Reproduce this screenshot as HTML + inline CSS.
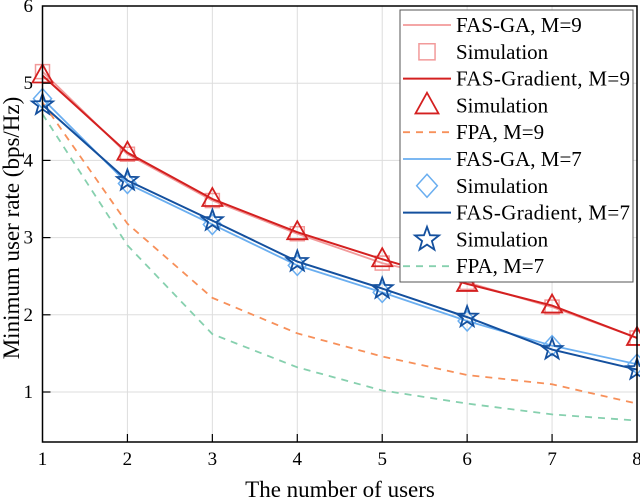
<!DOCTYPE html>
<html><head><meta charset="utf-8"><style>
body{margin:0;background:#fff}
svg{display:block;font-family:"Liberation Serif",serif}
</style></head><body>
<svg id="chart" width="640" height="502" viewBox="0 0 640 502">
<g id="grid"></g>
<g id="series"></g>
<g id="axes"></g>
<text x="340" y="497" text-anchor="middle" font-size="23">The number of users</text>
<text transform="translate(19,228) rotate(-90)" text-anchor="middle" font-size="23">Minimum user rate (bps/Hz)</text>
<g id="legend"></g>
</svg>
<script>
const users=[1,2,3,4,5,6,7,8];
const gaM9=[5.15,4.08,3.48,3.05,2.67,2.42,2.1,1.7];
const gradM9=[5.1,4.1,3.5,3.07,2.72,2.4,2.12,1.7];
const fpaM9=[4.75,3.18,2.22,1.76,1.46,1.22,1.1,0.85];
const gaM7=[4.8,3.7,3.17,2.64,2.29,1.92,1.6,1.36];
const gradM7=[4.72,3.74,3.22,2.69,2.34,1.97,1.55,1.29];
const fpaM7=[4.6,2.9,1.75,1.32,1.02,0.85,0.71,0.63];
const xTicks=[1,2,3,4,5,6,7,8];
const yTicks=[1,2,3,4,5,6];
const NS='http://www.w3.org/2000/svg';
const L=42.5,R=637,T=6,B=442;
const X=v=>L+(v-1)*(R-L)/7;
const Y=v=>392-(v-1)*77.2;
function mk(tag,attrs,parent){const e=document.createElementNS(NS,tag);for(const k in attrs)e.setAttribute(k,attrs[k]);parent.appendChild(e);return e;}
const grid=document.getElementById('grid'),axes=document.getElementById('axes'),ser=document.getElementById('series'),leg=document.getElementById('legend');
xTicks.forEach(t=>{
 if(t>1&&t<8){const g=mk('line',{x1:X(t),x2:X(t),y1:T,y2:B,stroke:'#ddd','stroke-width':1},grid);
 
 
 const tk=mk('line',{x1:X(t),x2:X(t),y1:B,y2:B-8,stroke:'#000','stroke-width':1.2},axes);
 
 }
 const tx=mk('text',{x:X(t),y:B+23,'text-anchor':'middle','font-size':19},axes);tx.textContent=t;
 
 
});
yTicks.forEach(t=>{
 if(t<6){const g=mk('line',{x1:L,x2:R,y1:Y(t),y2:Y(t),stroke:'#ddd','stroke-width':1},grid);
 
 
 const tk=mk('line',{x1:L,x2:L+8,y1:Y(t),y2:Y(t),stroke:'#000','stroke-width':1.2},axes);
 
 }
 const tx=mk('text',{x:33,y:Y(t)+6,'text-anchor':'end','font-size':19},axes);tx.textContent=t;
 
 
});
const fr=mk('path',{d:`M${L},${T}H${R}V${B}H${L}Z`,fill:'none',stroke:'#000','stroke-width':1.5},axes);


function marker(type,cx,cy,col,parent,s){
 s=s||1;let e;
 if(type==='square')e=mk('rect',{x:cx-7*s,y:cy-7*s,width:14*s,height:14*s,fill:'none',stroke:col,'stroke-width':1.5},parent);
 else if(type==='tri')e=mk('path',{d:`M${cx},${cy-11*s}L${cx+10*s},${cy+7*s}L${cx-10*s},${cy+7*s}Z`,fill:'none',stroke:col,'stroke-width':1.8},parent);
 else if(type==='diamond')e=mk('path',{d:`M${cx},${cy-10*s}L${cx+9*s},${cy}L${cx},${cy+10*s}L${cx-9*s},${cy}Z`,fill:'none',stroke:col,'stroke-width':1.5},parent);
 else {let p='';for(let i=0;i<10;i++){const r=(i%2?4.5:11)*s,a=-Math.PI/2+i*Math.PI/5;p+=(i?'L':'M')+(cx+r*Math.cos(a)).toFixed(1)+','+(cy+r*Math.sin(a)).toFixed(1);}
  e=mk('path',{d:p+'Z',fill:'none',stroke:col,'stroke-width':1.8},parent);}
 return e;
}
const specs=[
 {name:'FAS-GA, M=9',data:gaM9,col:'#f29a9a',dash:'',w:1.8,mk:null},
 {name:'Simulation',data:gaM9,col:'#f29a9a',line:false,mk:'square'},
 {name:'FAS-Gradient, M=9',data:gradM9,col:'#d42020',dash:'',w:2,mk:null},
 {name:'Simulation',data:gradM9,col:'#d42020',line:false,mk:'tri'},
 {name:'FPA, M=9',data:fpaM9,col:'#f7905a',dash:'7,6',w:1.8,mk:null},
 {name:'FAS-GA, M=7',data:gaM7,col:'#6aaef0',dash:'',w:1.8,mk:null},
 {name:'Simulation',data:gaM7,col:'#6aaef0',line:false,mk:'diamond'},
 {name:'FAS-Gradient, M=7',data:gradM7,col:'#14509e',dash:'',w:2,mk:null},
 {name:'Simulation',data:gradM7,col:'#14509e',line:false,mk:'star'},
 {name:'FPA, M=7',data:fpaM7,col:'#86d0ae',dash:'7,6',w:1.8,mk:null},
];
specs.forEach((s,i)=>{
 if(s.line!==false){
  const p=mk('polyline',{points:users.map((u,j)=>X(u)+','+Y(s.data[j])).join(' '),fill:'none',stroke:s.col,'stroke-width':s.w,'stroke-dasharray':s.dash},ser);
  
  
 } else {
  users.forEach((u,j)=>{const m=marker(s.mk,X(u),Y(s.data[j]),s.col,ser);
   
   });
 }
});
const lb=mk('rect',{x:400,y:10,width:233,height:272,fill:'#fff',stroke:'#555','stroke-width':1},leg);


specs.forEach((s,i)=>{
 const cy=25+i*26.8;
 let e;
 if(s.line!==false){e=mk('line',{x1:403,x2:451,y1:cy,y2:cy,stroke:s.col,'stroke-width':s.w,'stroke-dasharray':s.dash},leg);}
 else e=marker(s.mk,427,cy,s.col,leg,1.15);
 
 
 const t=mk('text',{x:456,y:cy+7,'font-size':21,textLength:s.name.length>12?174:undefined},leg);t.textContent=s.name;
 if(!(s.name.length>12))t.removeAttribute('textLength');
 
 
});
</script>
</body></html>
